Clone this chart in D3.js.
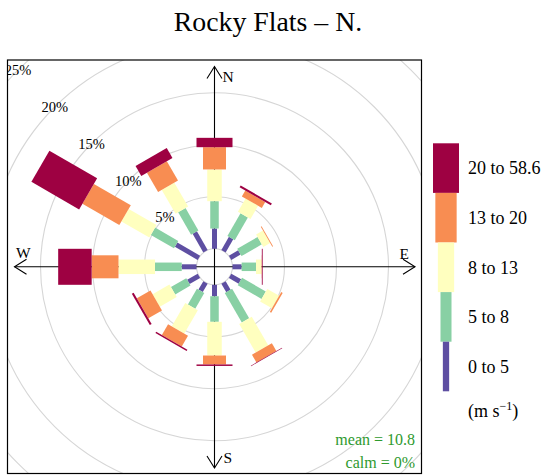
<!DOCTYPE html>
<html><head><meta charset="utf-8">
<script src="https://cdn.jsdelivr.net/npm/d3@7"></script>
<style>body{margin:0;background:#fff}svg{display:block}text{font-family:"Liberation Serif","Times New Roman",serif}</style>
</head><body><div id="chart"></div>
<script>
// Wind directions (degrees) and frequency (%) per speed bin
const directions = [0, 30, 60, 90, 120, 150, 180, 210, 240, 270, 300, 330];
const bin0to5   = [1.95, 1.46, 1.03, 0.88, 1.09, 0.95, 1.10, 0.94, 1.17, 1.42, 2.53, 2.07];
const bin5to8   = [2.63, 2.52, 2.26, 1.38, 2.64, 3.28, 2.46, 1.74, 1.70, 2.57, 2.57, 2.48];
const bin8to13  = [3.05, 1.47, 0.76, 0.54, 1.32, 3.16, 3.24, 2.60, 1.87, 3.51, 3.10, 2.65];
const bin13to20 = [2.14, 0.65, 0.08, 0.02, 0.15, 0.86, 0.86, 1.20, 1.51, 2.58, 4.10, 2.15];
const bin20to59 = [0.90, 0.20, 0.00, 0.08, 0.00, 0.05, 0.14, 0.15, 0.20, 3.22, 5.30, 1.10];
const binLabels = ["0 to 5", "5 to 8", "8 to 13", "13 to 20", "20 to 58.6"];
const binColors = ["#5E4FA2", "#88D0A4", "#FFFFBF", "#F88D52", "#9E0142"];
const gridTicks = [5, 10, 15, 20, 25];
const tickLabels = ["5%", "10%", "15%", "20%", "25%"];
const titleText = "Rocky Flats \u2013 N.";
const meanText = "mean = 10.8";
const calmText = "calm = 0%";

(function () {
const bins = [bin0to5, bin5to8, bin8to13, bin13to20, bin20to59];
const W = 551, H = 475;
const svg = d3.select("#chart").append("svg").attr("width", W).attr("height", H);

const box = {x0: 7.5, y0: 60, x1: 421.5, y1: 473.5};
const cx = 214.5, cy = 266.8;
const r = d3.scaleLinear().domain([0, 25]).range([18, 278]);
const barWidth = d3.scaleOrdinal().domain(d3.range(5)).range([5, 8.5, 14.5, 23, 36]);

svg.append("defs").append("clipPath").attr("id", "clip")
  .append("rect").attr("x", box.x0).attr("y", box.y0)
  .attr("width", box.x1 - box.x0).attr("height", box.y1 - box.y0);

// title
svg.append("text").attr("x", 268).attr("y", 30.8).attr("text-anchor", "middle")
  .attr("font-size", 27.8).text(titleText);

const plot = svg.append("g").attr("clip-path", "url(#clip)");

// grid circles
plot.selectAll("circle.grid").data([0].concat(gridTicks)).enter().append("circle")
  .attr("cx", cx).attr("cy", cy).attr("r", d => r(d))
  .attr("fill", "none").attr("stroke", "#d6d6d6").attr("stroke-width", 1.1);

// tick labels at 315 degrees
const la = -135 * Math.PI / 180;
plot.selectAll("text.tick").data(gridTicks).enter().append("text")
  .attr("x", d => cx + r(d) * Math.cos(la))
  .attr("y", d => cy + r(d) * Math.sin(la))
  .attr("dy", "0.35em").attr("text-anchor", "middle").attr("font-size", 14.5)
  .text((d, i) => tickLabels[i]);

// axes with arrows
const axG = plot.append("g").attr("stroke", "#000").attr("stroke-width", 1.1).attr("fill", "none");
const yTop = 66.5, yBot = 468, xLeft = 14.5, xRight = 415;
axG.append("line").attr("x1", cx).attr("x2", cx).attr("y1", yTop).attr("y2", yBot);
axG.append("line").attr("x1", xLeft).attr("x2", xRight).attr("y1", cy).attr("y2", cy);
const ah = 12, aw = 7.5;
axG.append("path").attr("d", `M${cx - aw},${yTop + ah}L${cx},${yTop}L${cx + aw},${yTop + ah}`);
axG.append("path").attr("d", `M${cx - aw},${yBot - ah}L${cx},${yBot}L${cx + aw},${yBot - ah}`);
axG.append("path").attr("d", `M${xLeft + ah},${cy - aw}L${xLeft},${cy}L${xLeft + ah},${cy + aw}`);
axG.append("path").attr("d", `M${xRight - ah},${cy - aw}L${xRight},${cy}L${xRight - ah},${cy + aw}`);

const cardinal = [
  {t: "N", x: cx + 8, y: 81.5},
  {t: "E", x: 399.5, y: 259},
  {t: "S", x: cx + 9, y: 463},
  {t: "W", x: 16, y: 258}
];
plot.selectAll("text.card").data(cardinal).enter().append("text")
  .attr("x", d => d.x).attr("y", d => d.y).attr("font-size", 15.5).text(d => d.t);

// bars
const segs = [];
directions.forEach((dir, i) => {
  let cum = 0;
  bins.forEach((b, j) => {
    segs.push({dir: dir, j: j, from: cum, to: cum + b[i]});
    cum += b[i];
  });
});
plot.append("g").selectAll("rect").data(segs).enter().append("rect")
  .attr("transform", d => `translate(${cx},${cy}) rotate(${d.dir})`)
  .attr("x", d => -barWidth(d.j) / 2)
  .attr("y", d => -r(d.to))
  .attr("width", d => barWidth(d.j))
  .attr("height", d => Math.max(0, r(d.to) - r(d.from)))
  .attr("fill", d => binColors[d.j]);

// mean / calm
plot.append("text").attr("x", 415).attr("y", 445).attr("text-anchor", "end")
  .attr("font-size", 16).attr("fill", "#2E9A2E").text(meanText);
plot.append("text").attr("x", 415).attr("y", 468).attr("text-anchor", "end")
  .attr("font-size", 16).attr("fill", "#2E9A2E").text(calmText);

// plot border
svg.append("rect").attr("x", box.x0).attr("y", box.y0)
  .attr("width", box.x1 - box.x0).attr("height", box.y1 - box.y0)
  .attr("fill", "none").attr("stroke", "#000").attr("stroke-width", 1.2);

// legend
const legW = [6.3, 11, 16.3, 21.3, 26];
const legTop = 143.3, legH = 49.6, legCx = 446;
const leg = svg.append("g");
const order = d3.range(5).reverse();
leg.selectAll("rect").data(order).enter().append("rect")
  .attr("x", j => legCx - legW[j] / 2)
  .attr("y", (j, k) => legTop + k * legH)
  .attr("width", j => legW[j]).attr("height", legH)
  .attr("fill", j => binColors[j]);
leg.selectAll("text").data(order).enter().append("text")
  .attr("x", 468).attr("y", (j, k) => legTop + k * legH + legH / 2)
  .attr("dy", "0.35em").attr("font-size", 18).text(j => binLabels[j]);
const unit = leg.append("text").attr("x", 468).attr("y", 417).attr("font-size", 18);
unit.append("tspan").text("(m s");
unit.append("tspan").attr("dy", -7).attr("font-size", 12).text("\u22121");
unit.append("tspan").attr("dy", 7).text(")");
})();
</script></body></html>
